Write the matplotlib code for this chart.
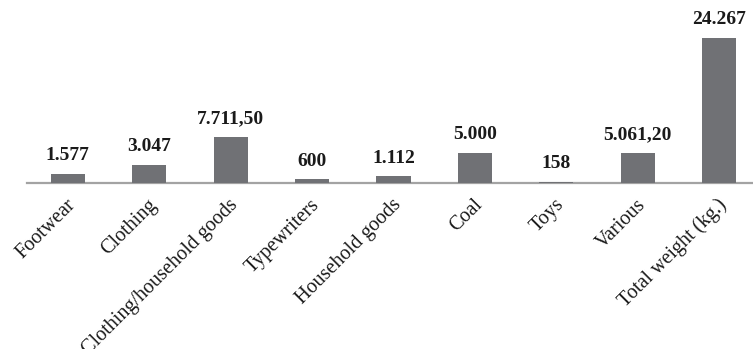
import matplotlib.pyplot as plt
from matplotlib.transforms import ScaledTranslation

# weights per category (kg)
categories = ['Footwear', 'Clothing', 'Clothing/household goods', 'Typewriters',
              'Household goods', 'Coal', 'Toys', 'Various', 'Total weight (kg.)']
weights = [1577, 3047, 7711.50, 600, 1112, 5000, 158, 5061.20, 24267]
labels = ['1.577', '3.047', '7.711,50', '600', '1.112', '5.000', '158', '5.061,20', '24.267']

plt.rcParams['font.family'] = ['Liberation Serif', 'DejaVu Serif']

fig = plt.figure(figsize=(7.53, 3.49), dpi=100)
ax = fig.add_axes([27 / 753, 166 / 349, 733 / 753, 183 / 349])

x = range(len(categories))
bars = ax.bar(x, weights, width=0.42, color='#707175', zorder=3)

for b, lab in zip(bars, labels):
    ax.annotate(lab, (b.get_x() + b.get_width() / 2, b.get_height()),
                xytext=(0, 7), textcoords='offset points',
                ha='center', va='bottom', fontsize=14, fontweight='bold',
                color='#1a1a1a')

ax.set_xlim(-0.5, len(categories) - 0.5)
ax.set_ylim(0, 30670)

for s in ['top', 'right', 'left']:
    ax.spines[s].set_visible(False)
ax.spines['bottom'].set_color('#a3a3a3')
ax.spines['bottom'].set_linewidth(1.6)
ax.spines['bottom'].set_zorder(1)
ax.set_yticks([])

ax.set_xticks(list(x))
ax.set_xticklabels(categories, rotation=45, ha='right', va='center',
                   rotation_mode='anchor', fontsize=14.5, color='#1a1a1a')
ax.tick_params(axis='x', length=0, pad=16)
# nudge the slanted labels so their ends sit just right of each bar centre
shift = ScaledTranslation(0.05, 0.03, fig.dpi_scale_trans)
for t in ax.get_xticklabels():
    t.set_transform(t.get_transform() + shift)

fig.savefig('out.png', dpi=100)
